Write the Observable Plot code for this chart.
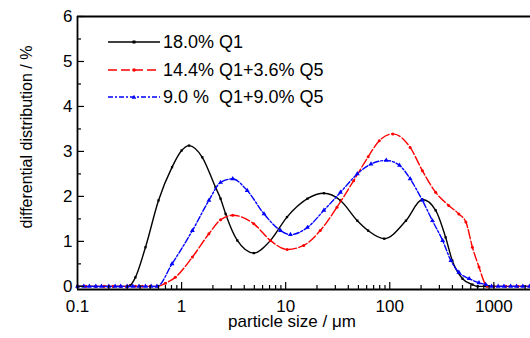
<!DOCTYPE html>
<html>
<head>
<meta charset="utf-8">
<script src="https://cdn.jsdelivr.net/npm/d3@7"></script>
<script src="https://cdn.jsdelivr.net/npm/@observablehq/plot@0.6"></script>
<style>
  body { margin: 0; background: #fff; font-family: "Liberation Sans", Arial, sans-serif; }
  #wrap { position: relative; width: 530px; height: 338px; }
  #legend { position: absolute; left: 108px; top: 0; font-size: 18px; color: #000; }
  .row { position: absolute; left: 0; height: 26px; display: flex; align-items: center; white-space: pre; }
  .row svg { display: block; }
  .row span { margin-left: 3px; }
</style>
</head>
<body>
<div id="wrap"></div>
<script>
// ---- data ----
const seriesNames = ["18.0% Q1", "14.4% Q1+3.6% Q5", "9.0 %  Q1+9.0% Q5"];
const seriesColors = ["#000000", "#ff0000", "#0000ff"];

const sizeBlack = [0.1, 0.12, 0.15, 0.18, 0.22, 0.26, 0.3, 0.32, 0.36, 0.45, 0.6, 0.81, 1.0, 1.18, 1.58, 2.12, 2.37, 2.65, 3.43, 4.94, 7.14, 10.3, 16.2, 23.3, 33.6, 48.8, 62, 88.6, 143, 206, 276, 344, 399, 500, 622, 700, 850, 1000, 1300, 1700, 2250];
const valBlack  = [0, 0, 0, 0, 0, 0, 0, 0.02, 0.2, 0.87, 1.91, 2.65, 3.02, 3.13, 2.87, 2.2, 1.95, 1.61, 1.02, 0.74, 1.02, 1.54, 1.95, 2.07, 1.91, 1.46, 1.24, 1.06, 1.46, 1.93, 1.69, 1.09, 0.57, 0.17, 0.04, 0, 0, 0, 0, 0, 0];

const sizeRed = [0.1, 0.12, 0.15, 0.18, 0.22, 0.26, 0.3, 0.36, 0.42, 0.5, 0.58, 0.7, 0.87, 1.27, 1.83, 2.37, 3.1, 4.94, 7.14, 10.3, 14.9, 21.5, 31.1, 45, 62, 79.3, 107, 157, 206, 276, 368, 461, 539, 622, 720, 824, 870, 1000, 1300, 1700, 2250];
const valRed  = [0, 0, 0, 0, 0, 0, 0, 0, 0, 0, 0, 0.07, 0.2, 0.65, 1.17, 1.48, 1.58, 1.39, 1.02, 0.82, 0.91, 1.24, 1.76, 2.35, 2.88, 3.24, 3.39, 3.09, 2.57, 2.09, 1.8, 1.61, 1.43, 0.87, 0.43, 0.06, 0, 0, 0, 0, 0];

const sizeBlue = [0.1, 0.115, 0.13, 0.15, 0.17, 0.2, 0.23, 0.26, 0.3, 0.34, 0.39, 0.45, 0.51, 0.58, 0.81, 1.27, 1.83, 2.37, 3.1, 4.27, 6.2, 8.93, 11.1, 16.2, 23.3, 33.6, 48.8, 66, 92.6, 124, 157, 206, 257, 322, 387, 461, 580, 720, 832, 950, 1100, 1250, 1450, 1650, 1900, 2200];
const valBlue  = [0, 0, 0, 0, 0, 0, 0, 0, 0, 0, 0, 0, 0, 0, 0.5, 1.24, 1.91, 2.31, 2.39, 2.13, 1.61, 1.24, 1.15, 1.31, 1.69, 2.09, 2.5, 2.72, 2.8, 2.69, 2.39, 1.91, 1.46, 1.02, 0.57, 0.31, 0.17, 0.08, 0.04, 0, 0, 0, 0, 0, 0, 0];

const xTicks = [0.1, 1, 10, 100, 1000];
const yTicks = [0, 1, 2, 3, 4, 5, 6];
const xLabel = "particle size / μm";
const yLabel = "differential distribution / %";

// ---- build ----
const W = 530, H = 338, mL = 77, mR = 0, mT = 16, mB = 49;
const plotW = W - mL - mR, plotH = H - mT - mB;
const xDomain = [0.1, 2250], yDomain = [-0.07, 6];

const toRows = (xs, ys) => xs.map((x, i) => ({x, y: ys[i]}));
const black = toRows(sizeBlack, valBlack);
const red = toRows(sizeRed, valRed);
const blue = toRows(sizeBlue, valBlue);

const xMinor = [];
for (const dec of [0.1, 1, 10, 100, 1000]) for (let k = 2; k <= 9; k++) {
  const v = dec * k; if (v <= xDomain[1]) xMinor.push(v);
}
const xMajor = xTicks.filter(v => v > xDomain[0]);
const yMinor = yTicks.slice(0, -1).map(v => v + 0.5);

const chart = Plot.plot({
  width: W, height: H,
  marginLeft: mL, marginRight: mR, marginTop: mT, marginBottom: mB,
  style: {fontFamily: '"Liberation Sans", Arial, sans-serif', fontSize: "17px", color: "#000", background: "#fff"},
  x: {type: "log", domain: xDomain},
  y: {domain: yDomain},
  marks: [
    // data
    Plot.line(black, {x: "x", y: "y", stroke: seriesColors[0], strokeWidth: 1.4, curve: "monotone-x"}),
    Plot.dot(black, {x: "x", y: "y", symbol: "square", r: 1.3, fill: seriesColors[0]}),
    Plot.line(red, {x: "x", y: "y", stroke: seriesColors[1], strokeWidth: 1.4, strokeDasharray: "9,2.5", curve: "monotone-x"}),
    Plot.dot(red, {x: "x", y: "y", symbol: "circle", r: 1.5, fill: seriesColors[1]}),
    Plot.line(blue, {x: "x", y: "y", stroke: seriesColors[2], strokeWidth: 1.4, strokeDasharray: "6,2,2,2", curve: "monotone-x"}),
    Plot.dot(blue, {x: "x", y: "y", symbol: "triangle", r: 1.8, fill: seriesColors[2]}),
    // frame lines
    Plot.ruleX([xDomain[0]], {stroke: "#000", strokeWidth: 1.8}),
    Plot.ruleY([yDomain[0]], {stroke: "#000", strokeWidth: 1.8}),
    Plot.ruleY([yDomain[1]], {stroke: "#000", strokeWidth: 1.8}),
    // inward ticks
    Plot.tickY(yTicks, {y: d => d, stroke: "#000", strokeWidth: 1.2, insetRight: plotW - 7}),
    Plot.tickY(yMinor, {y: d => d, stroke: "#000", strokeWidth: 1.2, insetRight: plotW - 4}),
    Plot.tickX(xMajor, {x: d => d, stroke: "#000", strokeWidth: 1.2, insetTop: plotH - 7}),
    Plot.tickX(xMinor, {x: d => d, stroke: "#000", strokeWidth: 1.2, insetTop: plotH - 4}),
    // tick labels
    Plot.axisY({ticks: yTicks, tickSize: 0, tickPadding: 5, fontSize: 17, label: null, tickFormat: d => String(d)}),
    Plot.axisX({ticks: xTicks, tickSize: 0, tickPadding: 10, fontSize: 17, label: null, tickFormat: d => String(d)}),
    // titles
    Plot.text([xLabel], {frameAnchor: "bottom", dx: -12, dy: 37, fontSize: 17, text: d => d}),
    Plot.text([yLabel], {frameAnchor: "left", rotate: -90, textAnchor: "middle", dx: -51, dy: -16, fontSize: 16, text: d => d})
  ]
});

const wrap = document.getElementById("wrap");
wrap.appendChild(chart);

// legend (HTML overlay)
const legend = document.createElement("div");
legend.id = "legend";
const rowCenters = [42, 70, 97];
const dashes = [null, "9,4", "5,2,2,2"];
const symbols = ["square", "circle", "triangle"];
seriesNames.forEach((name, i) => {
  const row = document.createElement("div");
  row.className = "row";
  row.style.top = (rowCenters[i] - 13) + "px";
  let mk;
  if (symbols[i] === "square") mk = `<rect x="24.5" y="11.5" width="3" height="3" fill="${seriesColors[i]}"/>`;
  else if (symbols[i] === "circle") mk = `<circle cx="26" cy="13" r="1.8" fill="${seriesColors[i]}"/>`;
  else mk = `<path d="M26,10.8 L28.3,14.8 L23.7,14.8 Z" fill="${seriesColors[i]}"/>`;
  row.innerHTML = `<svg width="52" height="26"><line x1="0" y1="13" x2="52" y2="13" stroke="${seriesColors[i]}" stroke-width="1.5" ${dashes[i] ? `stroke-dasharray="${dashes[i]}"` : ""}/>${mk}</svg><span>${name}</span>`;
  legend.appendChild(row);
});
wrap.appendChild(legend);
</script>
</body>
</html>
